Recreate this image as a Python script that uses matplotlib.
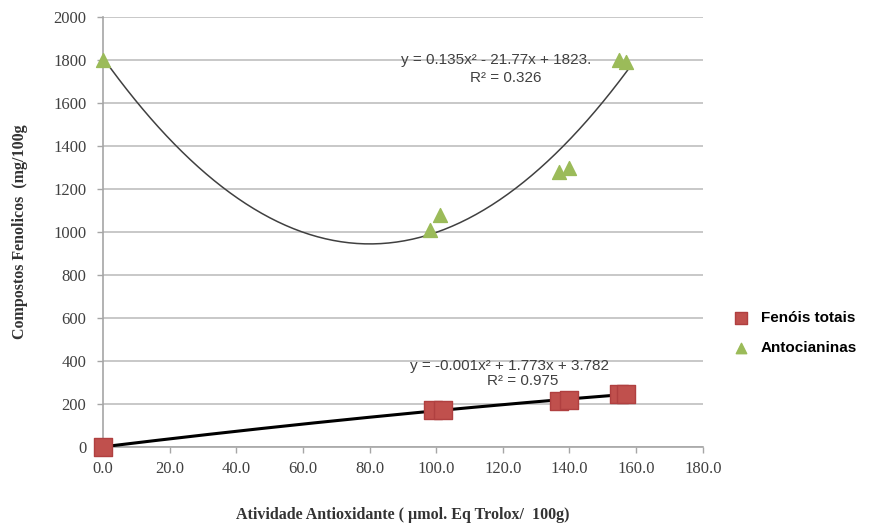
import numpy as np
import matplotlib.pyplot as plt

# dados
atividade_fen = [0.0, 99.0, 102.0, 137.0, 140.0, 155.0, 157.0]
fenois = [0.0, 170.0, 172.0, 215.0, 217.0, 245.0, 248.0]

atividade_ant = [0.0, 98.0, 101.0, 137.0, 140.0, 155.0, 157.0]
antocianinas = [1800.0, 1010.0, 1080.0, 1280.0, 1295.0, 1800.0, 1790.0]

eq_ant = "y = 0.135x² - 21.77x + 1823."
r2_ant = "R² = 0.326"
eq_fen = "y = -0.001x² + 1.773x + 3.782"
r2_fen = "R² = 0.975"

xticks = np.arange(0, 181, 20)
yticks = np.arange(0, 2001, 200)

fig = plt.figure(figsize=(8.84, 5.27), dpi=100)
ax = fig.add_axes([0.1165, 0.152, 0.6785, 0.816])

# linhas de tendencia (polinomio grau 2)
xx = np.linspace(0, 158, 200)
p_ant = np.polyfit(atividade_ant, antocianinas, 2)
p_fen = np.polyfit(atividade_fen, fenois, 2)
ax.plot(xx, np.polyval(p_ant, xx), color='#404040', lw=1.1, zorder=3)
ax.plot(xx, np.polyval(p_fen, xx), color='black', lw=2.2, zorder=3)

ax.scatter(atividade_fen, fenois, marker='s', s=150, color='#C0504D',
           edgecolor='#B04040', zorder=4, label='Fenóis totais', clip_on=False)
ax.scatter(atividade_ant, antocianinas, marker='^', s=100, color='#9BBB59',
           edgecolor='#9BBB59', zorder=4, label='Antocianinas', clip_on=False)

ax.set_xlim(0, 180)
ax.set_ylim(0, 2000)
ax.set_xticks(xticks)
ax.set_xticklabels(['%.1f' % v for v in xticks])
ax.set_yticks(yticks)
ax.yaxis.grid(True, color='#BFBFBF', lw=1.2)
ax.set_axisbelow(True)
for s in ['top', 'right']:
    ax.spines[s].set_visible(False)
for s in ['left', 'bottom']:
    ax.spines[s].set_color('#A6A6A6')
    ax.spines[s].set_linewidth(1.2)
ax.tick_params(colors='#A6A6A6', labelcolor='#404040', length=4, width=1)
ax.tick_params(axis='both', labelsize=12)
ax.tick_params(axis='y', pad=8)
ax.tick_params(axis='x', pad=6)
for lb in ax.get_xticklabels() + ax.get_yticklabels():
    lb.set_family('Liberation Serif')

ax.set_xlabel('Atividade Antioxidante ( µmol. Eq Trolox/  100g)', family='Liberation Serif',
              fontweight='bold', fontsize=11.5, color='#333333', labelpad=22)
ax.set_ylabel('Compostos Fenolicos  (mg/100g', family='Liberation Serif',
              fontweight='bold', fontsize=11.5, color='#333333', labelpad=18)

ax.text(118, 1800, eq_ant, ha='center', va='center', fontsize=11,
        family='Liberation Sans', color='#404040')
ax.text(121, 1715, r2_ant, ha='center', va='center', fontsize=11,
        family='Liberation Sans', color='#404040')
ax.text(122, 375, eq_fen, ha='center', va='center', fontsize=11,
        family='Liberation Sans', color='#404040')
ax.text(126, 305, r2_fen, ha='center', va='center', fontsize=11,
        family='Liberation Sans', color='#404040')

leg = ax.legend(loc='center left', bbox_to_anchor=(1.015, 0.265), frameon=False,
                prop={'family': 'Liberation Sans', 'weight': 'bold', 'size': 11},
                handletextpad=0.3, labelspacing=1.1, markerscale=0.75)

fig.savefig('out.png', dpi=100)
